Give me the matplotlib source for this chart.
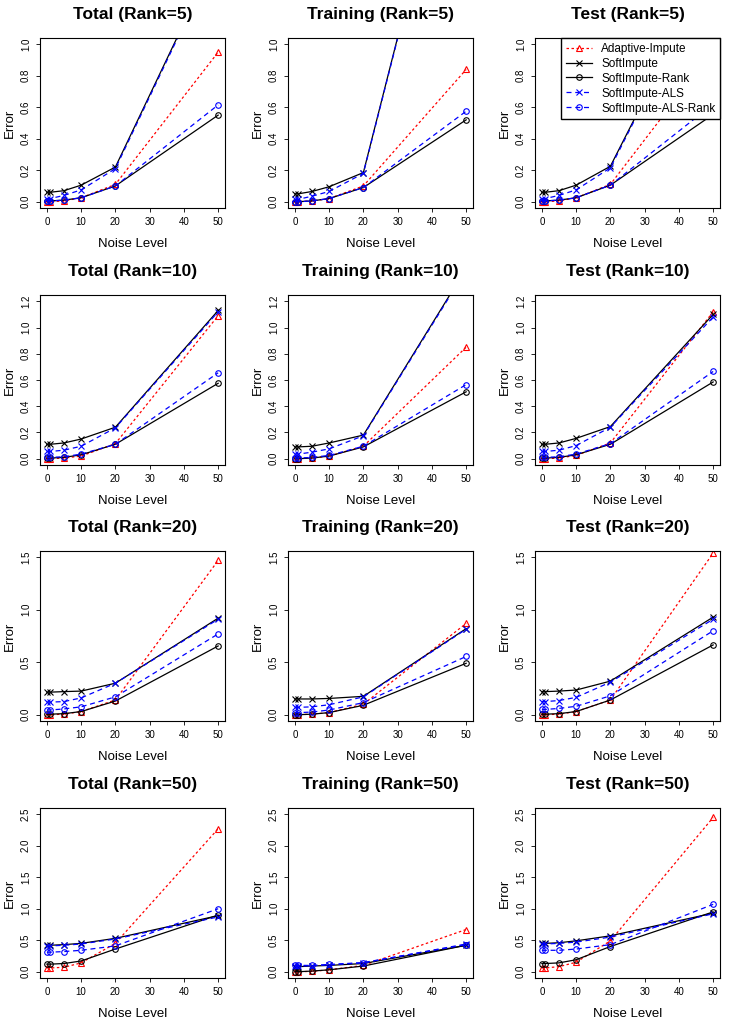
import matplotlib
matplotlib.use("Agg")
import matplotlib.pyplot as plt
import numpy as np

plt.rcParams["font.family"] = "Liberation Sans"

noise = [0, 1, 5, 10, 20, 50]
methods = ["Adaptive-Impute", "SoftImpute", "SoftImpute-Rank",
           "SoftImpute-ALS", "SoftImpute-ALS-Rank"]
ranks = [5, 10, 20, 50]
kinds = ["Total", "Training", "Test"]
ylims = {5: (0, 1.0), 10: (0, 1.2), 20: (0, 1.5), 50: (0, 2.5)}
ysteps = {5: 0.2, 10: 0.2, 20: 0.5, 50: 0.5}

# errors[(rank, kind)] = [adaptive, soft, soft_rank, als, als_rank]
errors = {
    (5, "Total"): [
        [0, 0, 0.005, 0.025, 0.11, 0.95],
        [0.06, 0.06, 0.07, 0.105, 0.22, 1.59],
        [0.005, 0.005, 0.01, 0.025, 0.10, 0.55],
        [0.02, 0.02, 0.04, 0.075, 0.21, 1.58],
        [0.005, 0.005, 0.01, 0.025, 0.10, 0.615]],
    (5, "Training"): [
        [0, 0, 0.005, 0.02, 0.10, 0.84],
        [0.05, 0.05, 0.065, 0.095, 0.185, 2.76],
        [0, 0, 0.005, 0.02, 0.09, 0.52],
        [0.015, 0.015, 0.035, 0.065, 0.18, 2.75],
        [0, 0, 0.005, 0.02, 0.09, 0.575]],
    (5, "Test"): [
        [0, 0, 0.005, 0.025, 0.11, 0.96],
        [0.06, 0.06, 0.07, 0.105, 0.225, 1.51],
        [0.005, 0.005, 0.01, 0.025, 0.105, 0.555],
        [0.02, 0.02, 0.04, 0.075, 0.215, 1.50],
        [0.005, 0.005, 0.01, 0.025, 0.105, 0.62]],
    (10, "Total"): [
        [0, 0, 0.005, 0.02, 0.115, 1.09],
        [0.11, 0.11, 0.12, 0.15, 0.24, 1.13],
        [0.005, 0.005, 0.01, 0.03, 0.11, 0.575],
        [0.055, 0.055, 0.065, 0.095, 0.235, 1.12],
        [0.01, 0.01, 0.015, 0.035, 0.11, 0.655]],
    (10, "Training"): [
        [0, 0, 0.005, 0.02, 0.095, 0.85],
        [0.09, 0.09, 0.095, 0.12, 0.18, 1.45],
        [0, 0, 0.005, 0.02, 0.09, 0.51],
        [0.035, 0.035, 0.05, 0.075, 0.175, 1.44],
        [0.005, 0.005, 0.01, 0.025, 0.095, 0.565]],
    (10, "Test"): [
        [0, 0, 0.005, 0.025, 0.12, 1.12],
        [0.11, 0.11, 0.12, 0.155, 0.245, 1.10],
        [0.005, 0.005, 0.01, 0.03, 0.11, 0.585],
        [0.055, 0.055, 0.065, 0.10, 0.24, 1.08],
        [0.01, 0.01, 0.015, 0.035, 0.115, 0.665]],
    (20, "Total"): [
        [0, 0, 0.005, 0.03, 0.14, 1.47],
        [0.215, 0.215, 0.22, 0.225, 0.30, 0.92],
        [0.005, 0.005, 0.01, 0.03, 0.13, 0.655],
        [0.12, 0.12, 0.125, 0.16, 0.30, 0.91],
        [0.045, 0.045, 0.055, 0.075, 0.17, 0.77]],
    (20, "Training"): [
        [0, 0, 0.005, 0.02, 0.10, 0.87],
        [0.15, 0.15, 0.15, 0.155, 0.175, 0.82],
        [0, 0, 0.005, 0.02, 0.09, 0.49],
        [0.07, 0.07, 0.075, 0.095, 0.17, 0.815],
        [0.02, 0.02, 0.025, 0.045, 0.115, 0.555]],
    (20, "Test"): [
        [0, 0, 0.005, 0.03, 0.14, 1.54],
        [0.22, 0.22, 0.225, 0.235, 0.32, 0.93],
        [0.005, 0.005, 0.01, 0.03, 0.14, 0.665],
        [0.125, 0.125, 0.135, 0.165, 0.31, 0.91],
        [0.05, 0.05, 0.06, 0.08, 0.18, 0.80]],
    (50, "Total"): [
        [0.06, 0.06, 0.07, 0.14, 0.45, 2.27],
        [0.42, 0.42, 0.43, 0.45, 0.53, 0.89],
        [0.12, 0.12, 0.13, 0.17, 0.36, 0.90],
        [0.41, 0.41, 0.42, 0.44, 0.52, 0.87],
        [0.31, 0.31, 0.32, 0.34, 0.41, 1.00]],
    (50, "Training"): [
        [0, 0, 0.005, 0.03, 0.10, 0.67],
        [0.08, 0.08, 0.09, 0.10, 0.13, 0.42],
        [0, 0, 0.01, 0.03, 0.09, 0.42],
        [0.09, 0.09, 0.095, 0.11, 0.14, 0.44],
        [0.10, 0.10, 0.10, 0.115, 0.145, 0.43]],
    (50, "Test"): [
        [0.06, 0.06, 0.08, 0.15, 0.49, 2.45],
        [0.45, 0.45, 0.46, 0.49, 0.57, 0.93],
        [0.13, 0.13, 0.14, 0.19, 0.40, 0.95],
        [0.44, 0.44, 0.45, 0.47, 0.55, 0.92],
        [0.34, 0.34, 0.34, 0.36, 0.43, 1.07]],
}

styles = [
    dict(color="red", ls=(0, (2, 2)), marker="^", mfc="none"),
    dict(color="black", ls="-", marker="x"),
    dict(color="black", ls="-", marker="o", mfc="none"),
    dict(color="blue", ls=(0, (4, 3)), marker="x"),
    dict(color="blue", ls=(0, (4, 3)), marker="o", mfc="none"),
]

W, H = 734, 1027
fig = plt.figure(figsize=(W / 100, H / 100), dpi=100)
lefts = [40, 288, 535]
tops = [38, 295, 551, 808]
aw, ah = 185, 170

for r, rank in enumerate(ranks):
    for c, kind in enumerate(kinds):
        ax = fig.add_axes([lefts[c] / W, 1 - (tops[r] + ah) / H, aw / W, ah / H])
        lo, hi = ylims[rank]
        pad = (hi - lo) * 0.04
        for name, vals, st in zip(methods, errors[(rank, kind)], styles):
            ax.plot(noise, vals, label=name, lw=0.9, ms=4, mew=0.8, **st)
        ax.set_xlim(-2, 52)
        ax.set_ylim(lo - pad, hi + pad)
        ax.set_xticks([0, 10, 20, 30, 40, 50])
        ax.set_yticks(np.round(np.arange(lo, hi + 1e-9, ysteps[rank]), 2))
        ax.set_yticklabels([f"{v:.1f}" for v in ax.get_yticks()])
        ax.tick_params(labelsize=7, length=3, width=0.6)
        for lab in ax.get_yticklabels():
            lab.set_rotation(90)
            lab.set_va("center")
        ax.set_title(f"{kind} (Rank={rank})", fontsize=12.5, fontweight="bold", pad=14)
        ax.set_xlabel("Noise Level", fontsize=9.5, labelpad=8)
        ax.set_ylabel("Error", fontsize=9.5, labelpad=4)
        for s in ax.spines.values():
            s.set_linewidth(0.8)
        if r == 0 and c == 2:
            ax.legend(loc="upper right", fontsize=8.5, frameon=True, fancybox=False,
                      edgecolor="black", borderaxespad=0, handlelength=2.2,
                      borderpad=0.4, labelspacing=0.25, framealpha=1)

fig.savefig("out.png", dpi=100)
